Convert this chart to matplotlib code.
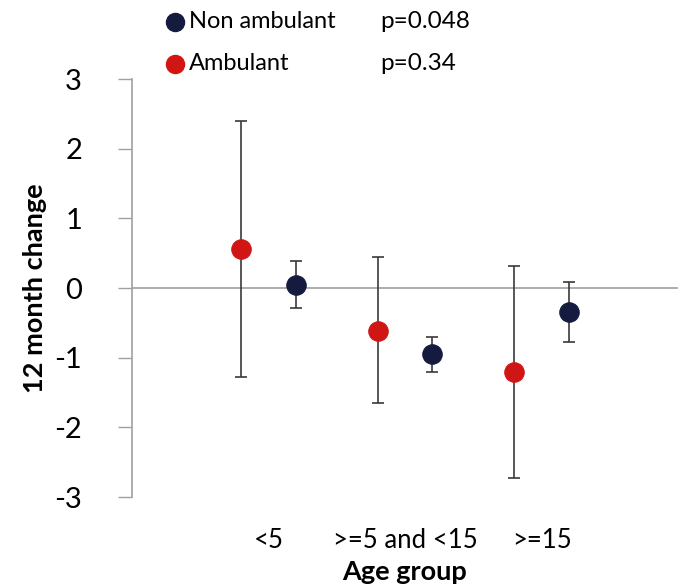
import matplotlib
matplotlib.use("Agg")
import matplotlib.pyplot as plt
from matplotlib.lines import Line2D

plt.rcParams['font.family'] = ['Lato', 'DejaVu Sans']

# Data
age_groups = ["<5", ">=5 and <15", ">=15"]
ambulant_mean = [0.56, -0.61, -1.21]
ambulant_upper = [2.40, 0.44, 0.31]
ambulant_lower = [-1.27, -1.65, -2.72]
non_ambulant_mean = [0.04, -0.95, -0.34]
non_ambulant_upper = [0.39, -0.71, 0.08]
non_ambulant_lower = [-0.29, -1.21, -0.78]
series_names = ["Non ambulant", "Ambulant"]
p_values = ["p=0.048", "p=0.34"]
y_ticks = [-3, -2, -1, 0, 1, 2, 3]

navy = "#141b3f"
red = "#d01515"
bar_color = "#3a3a3a"

fig = plt.figure(figsize=(6.83, 5.87), dpi=100)
ax = fig.add_axes([0.1933, 0.1533, 0.7994, 0.712])

centers = list(range(1, len(age_groups) + 1))
offset = 0.2

ax.axhline(0, color="#a0a0a0", lw=1.2, zorder=1)


def draw_series(xs, mean, lo, hi, color):
    yerr = [[m - l for m, l in zip(mean, lo)], [h - m for m, h in zip(mean, hi)]]
    ax.errorbar(xs, mean, yerr=yerr, fmt="none", ecolor=bar_color,
                elinewidth=1.2, capsize=4.3, capthick=1.2, zorder=2)
    ax.plot(xs, mean, "o", color=color, markersize=14,
            markeredgecolor=color, markeredgewidth=0.8, zorder=3)


draw_series([c - offset for c in centers], ambulant_mean, ambulant_lower, ambulant_upper, red)
draw_series([c + offset for c in centers], non_ambulant_mean, non_ambulant_lower, non_ambulant_upper, navy)

ax.set_xlim(0, 4)
ax.set_ylim(-3, 3)
ax.set_yticks(y_ticks)
ax.set_yticklabels([str(t) for t in y_ticks], fontsize=21)
ax.set_xticks(centers)
ax.set_xticklabels(age_groups, fontsize=18.5)
ax.tick_params(axis="x", length=0, pad=22)
ax.tick_params(axis="y", length=10, width=1.0, color="#a0a0a0", pad=26)

for s in ["top", "right", "bottom"]:
    ax.spines[s].set_visible(False)
ax.spines["left"].set_color("#a0a0a0")
ax.spines["left"].set_linewidth(1.2)

ax.set_ylabel("12 month change", fontsize=19.5, fontweight="bold", labelpad=5)
ax.set_xlabel("Age group", fontsize=19.5, fontweight="bold", labelpad=5)

# Legend with p-values above the plot
legend_rows = [(series_names[0], p_values[0], navy, 22),
               (series_names[1], p_values[1], red, 64)]
W, H = 683.0, 587.0
for name, p, color, py in legend_rows:
    fig.add_artist(Line2D([175 / W], [1 - py / H], marker="o", markersize=13,
                          color=color, transform=fig.transFigure, linestyle="none"))
    fig.text(189 / W, 1 - py / H, name, fontsize=17, va="center", ha="left")
    fig.text(380 / W, 1 - py / H, p, fontsize=17.5, va="center", ha="left")

fig.savefig("out.png", dpi=100)
